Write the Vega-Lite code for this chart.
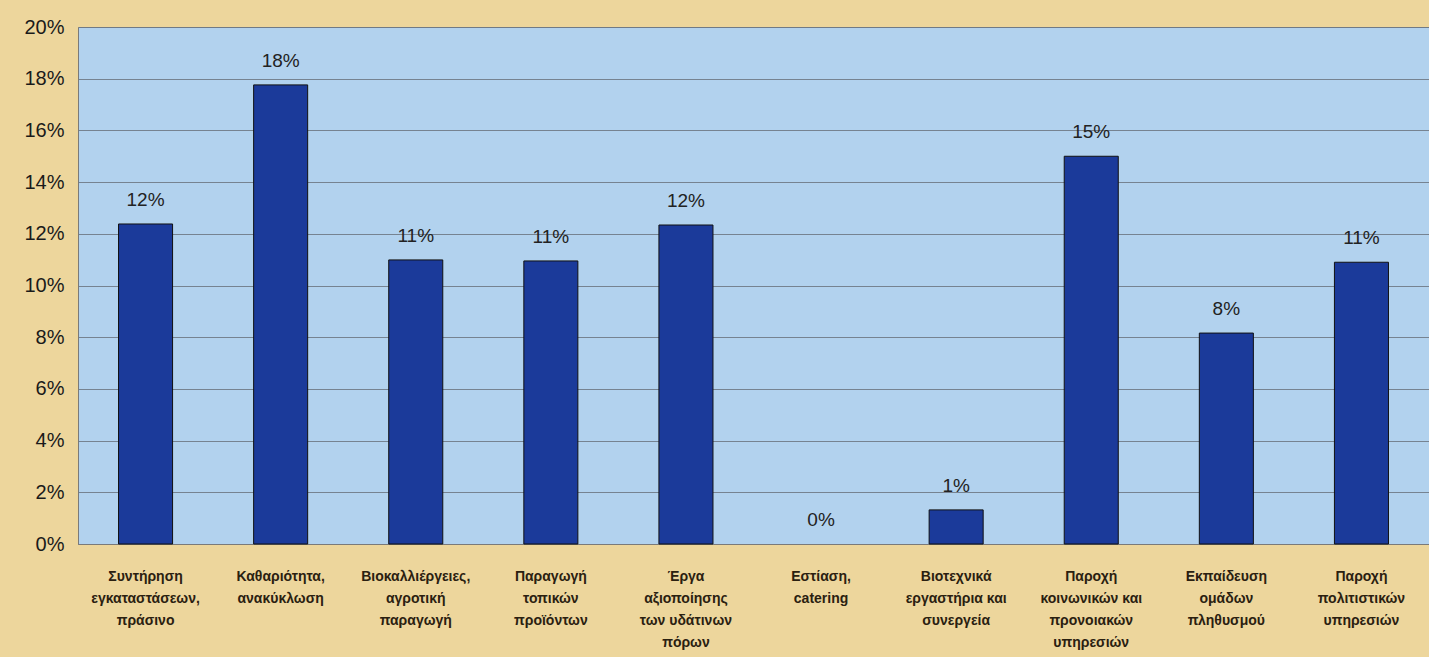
{
  "$schema": "https://vega.github.io/schema/vega-lite/v6.json",
  "autosize": "none",
  "width": 1351,
  "height": 517,
  "padding": {"left": 78, "top": 27, "right": 0, "bottom": 113},
  "background": "#EDD69C",
  "config": {
    "view": {"fill": "#B2D2EE", "stroke": "#7a7a7a", "strokeWidth": 1},
    "font": "Liberation Sans"
  },
  "data": {
    "values": [
      {"cat": "Συντήρηση\nεγκαταστάσεων,\nπράσινο", "v": 0.1238},
      {"cat": "Καθαριότητα,\nανακύκλωση", "v": 0.1776},
      {"cat": "Βιοκαλλιέργειες,\nαγροτική\nπαραγωγή", "v": 0.1099},
      {"cat": "Παραγωγή\nτοπικών\nπροϊόντων", "v": 0.1095},
      {"cat": "Έργα\nαξιοποίησης\nτων υδάτινων\nπόρων", "v": 0.1234},
      {"cat": "Εστίαση,\ncatering", "v": 0.0},
      {"cat": "Βιοτεχνικά\nεργαστήρια και\nσυνεργεία", "v": 0.0132},
      {"cat": "Παροχή\nκοινωνικών και\nπρονοιακών\nυπηρεσιών", "v": 0.150},
      {"cat": "Εκπαίδευση\nομάδων\nπληθυσμού", "v": 0.0816},
      {"cat": "Παροχή\nπολιτιστικών\nυπηρεσιών", "v": 0.109}
    ]
  },
  "encoding": {
    "x": {
      "field": "cat", "type": "nominal", "sort": null, "title": null,
      "scale": {"paddingInner": 0.6, "paddingOuter": 0.3},
      "axis": {
        "labelAngle": 0, "labelExpr": "split(datum.value, '\\n')",
        "labelFontSize": 14, "labelFontWeight": "bold", "labelColor": "#2a2010", "labelLineHeight": 22,
        "labelPadding": 25, "labelBaseline": "top", "labelLimit": 200,
        "ticks": false, "domainColor": "#7a7a7a", "domainWidth": 1
      }
    },
    "y": {
      "field": "v", "type": "quantitative", "title": null,
      "scale": {"domain": [0, 0.2]},
      "axis": {
        "format": ".0%", "values": [0, 0.02, 0.04, 0.06, 0.08, 0.1, 0.12, 0.14, 0.16, 0.18, 0.2],
        "labelFontSize": 20, "labelColor": "#1a1a1a", "labelPadding": 14,
        "ticks": false, "domain": false,
        "gridColor": "#6f7a86", "gridWidth": 1, "gridOpacity": 0.9
      }
    }
  },
  "layer": [
    {
      "mark": {"type": "bar", "fill": "#1B3A9A", "stroke": "#111111", "strokeWidth": 1},
      "encoding": {
        "strokeOpacity": {"condition": {"test": "datum.v === 0", "value": 0}, "value": 1}
      }
    },
    {
      "mark": {"type": "text", "dy": -14, "baseline": "bottom", "fontSize": 19, "color": "#222222"},
      "encoding": {"text": {"field": "v", "type": "quantitative", "format": ".0%"}}
    }
  ]
}
